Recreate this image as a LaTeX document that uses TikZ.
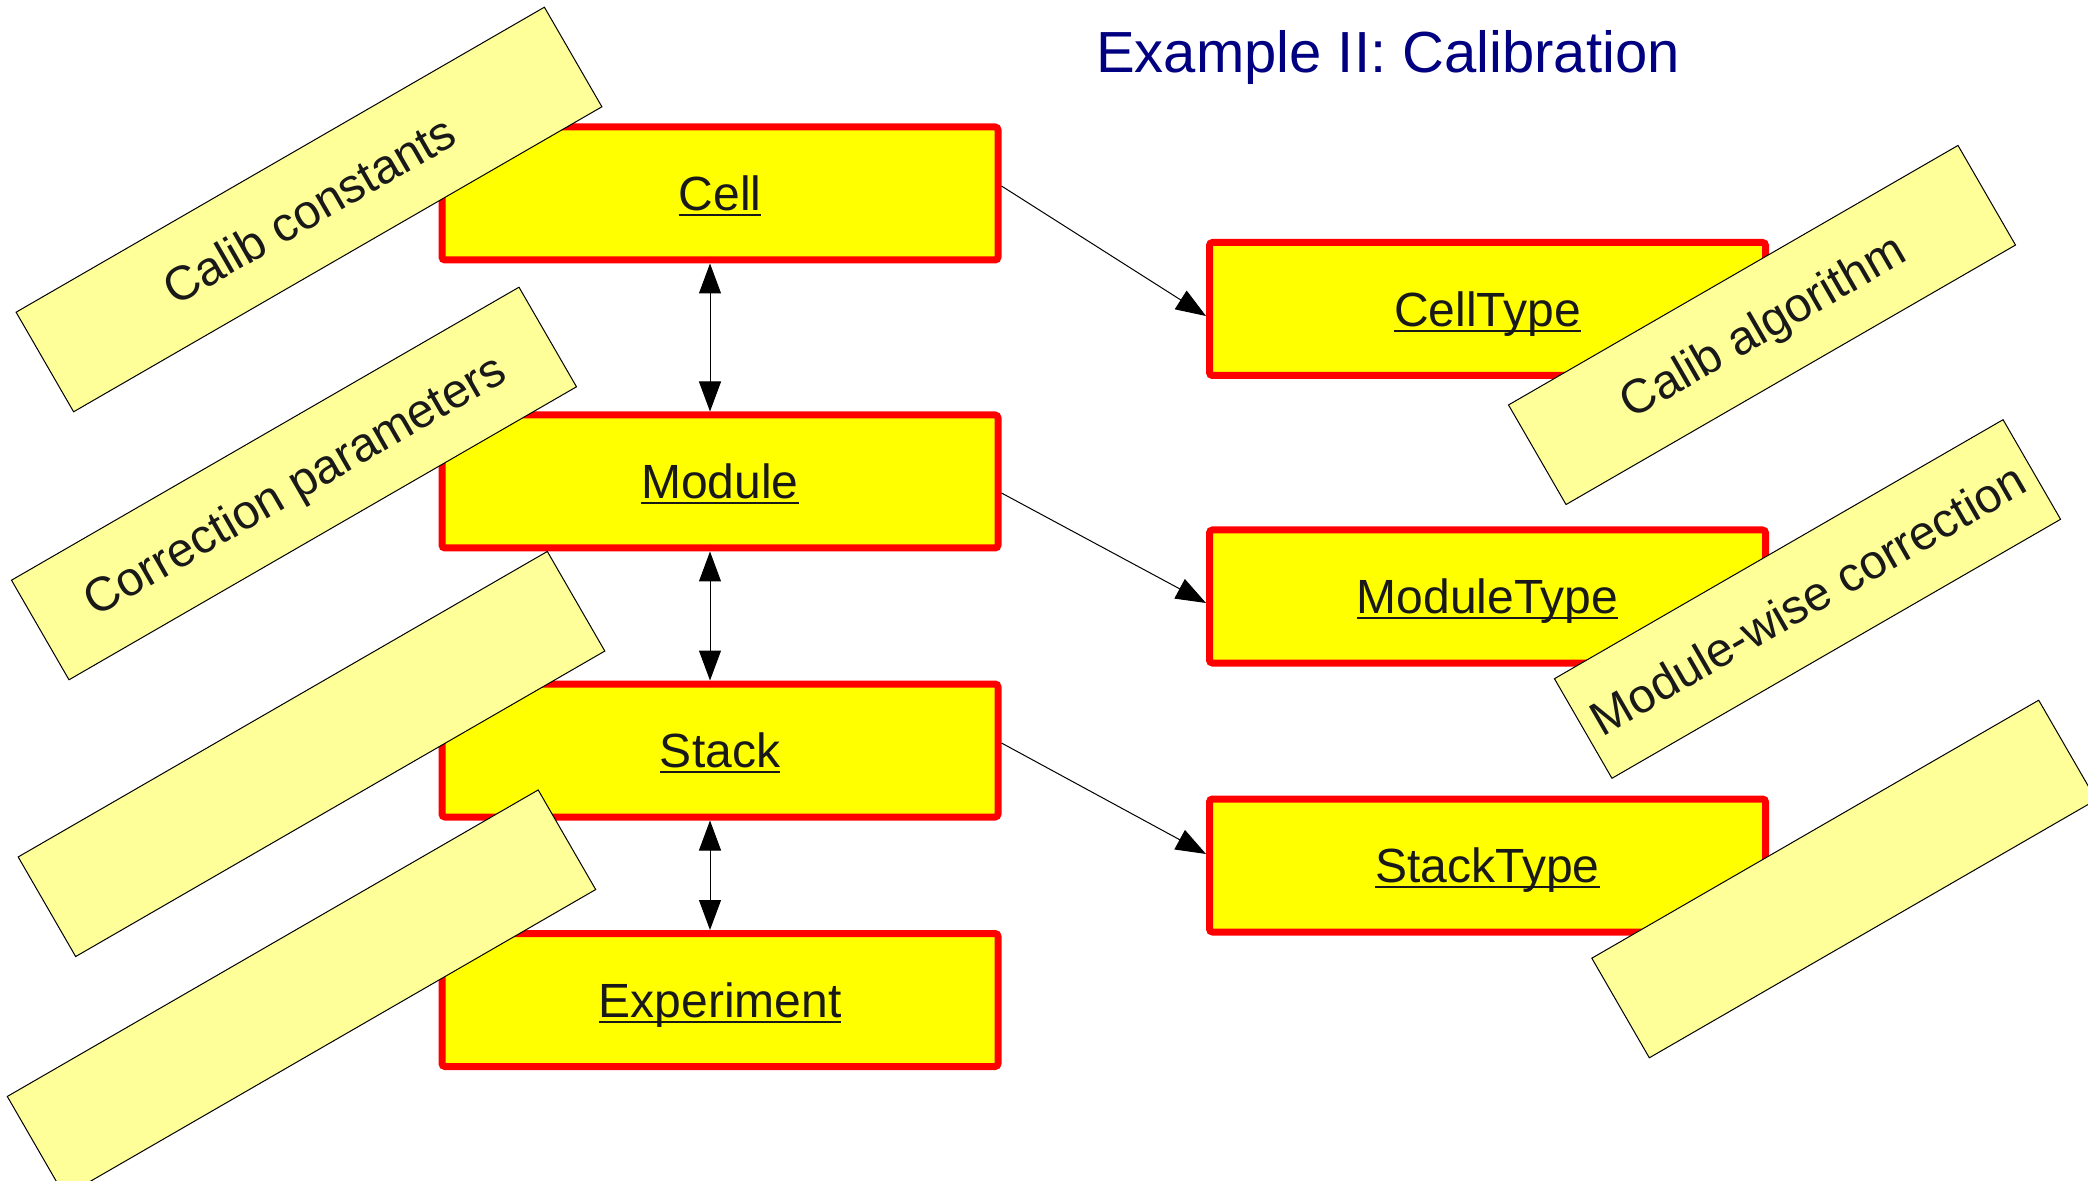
\documentclass[tikz,border=0pt]{standalone}
\usepackage{fontspec}
\setmainfont{Liberation Sans}
\usetikzlibrary{arrows.meta}
\definecolor{boxyellow}{RGB}{255,255,0}
\definecolor{boxred}{RGB}{255,0,0}
\definecolor{noteyellow}{RGB}{255,255,153}
\definecolor{titleblue}{RGB}{0,0,128}
\newsavebox{\lblbox}
\newcommand{\ulbl}[1]{\sbox{\lblbox}{#1}\rlap{\rule[-0.12em]{\wd\lblbox}{0.045em}}\usebox{\lblbox}}
\begin{document}
\begin{tikzpicture}[x=0.5pt,y=-0.5pt,
  >={Triangle[length=15pt,width=11pt]},
  classbox/.style={rectangle,draw=boxred,fill=boxyellow,line width=3.5pt,rounded corners=1.5pt,
    minimum width=278pt,minimum height=66.5pt,text=black!90,text height=17.2pt,text depth=0pt,
    font=\fontsize{24}{28}\selectfont},
  sticky/.style={rectangle,draw=black,fill=noteyellow,line width=0.5pt,rotate=30,
    minimum height=57.5pt,text=black!90,text height=17.2pt,text depth=0pt,
    font=\fontsize{24}{28}\selectfont},
  link/.style={draw=black,line width=0.5pt}]
\useasboundingbox (0,0) rectangle (2088,1181);
\begin{scope}
\node (C) at (720,193.5) [classbox] {\ulbl{Cell}};
\node (M) at (720,481.5) [classbox] {\ulbl{Module}};
\node (S) at (720,750.5) [classbox] {\ulbl{Stack}};
\node (E) at (720,1000) [classbox] {\ulbl{Experiment}};
\node (CT) at (1487.5,309) [classbox] {\ulbl{CellType}};
\node (MT) at (1487.5,596.5) [classbox] {\ulbl{ModuleType}};
\node (ST) at (1487.5,865.5) [classbox] {\ulbl{StackType}};
\draw[link,<->] ([xshift=-5pt]C.south) -- ([xshift=-5pt]M.north);
\draw[link,<->] ([xshift=-5pt]M.south) -- ([xshift=-5pt]S.north);
\draw[link,<->] ([xshift=-5pt]S.south) -- ([xshift=-5pt]E.north);
\draw[link,->] ([yshift=3.75pt]C.east) -- ([yshift=-3.5pt]CT.west);
\draw[link,->] ([yshift=-5.75pt]M.east) -- ([yshift=-3.25pt]MT.west);
\draw[link,->] ([yshift=3.75pt]S.east) -- ([yshift=5.75pt]ST.west);
\end{scope}
\node (T) at (1388,73) [anchor=base,text=titleblue,font=\fontsize{29}{34}\selectfont] {Example II: Calibration};
\begin{scope}
\node (N1) at (309,209.5) [sticky,minimum width=305pt] {Calib constants};
\node (N2) at (294,483.5) [sticky,minimum width=293pt] {Correction parameters};
\node (N3) at (311.5,754) [sticky,minimum width=305.5pt] {};
\node (N4) at (301.5,993) [sticky,minimum width=306.5pt] {};
\node (N5) at (1762,325) [sticky,minimum width=259.5pt] {Calib algorithm};
\node (N6) at (1807.5,599) [sticky,minimum width=259pt] {Module-wise correction};
\node (N7) at (1844,879) [sticky,minimum width=258pt] {};
\end{scope}
\end{tikzpicture}
\end{document}
